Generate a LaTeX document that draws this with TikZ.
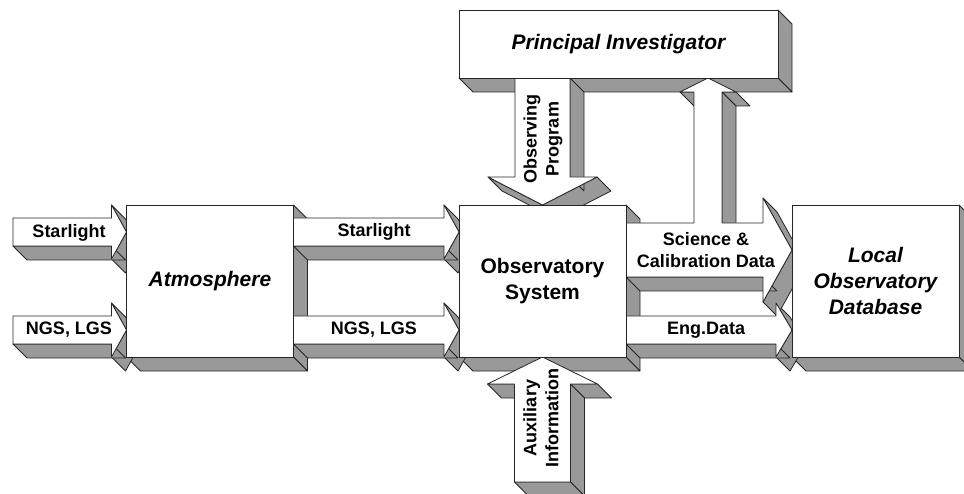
\documentclass[tikz,border=0pt]{standalone}
\usepackage{fontspec}
\setmainfont{Liberation Sans}
\usetikzlibrary{calc}
\pgfdeclarelayer{shade}
\pgfdeclarelayer{top}
\pgfsetlayers{shade,main,top}

% grey side of an extruded edge
\newcommand{\sidewall}[2]{\filldraw[wall] (#1) -- (#2) -- ($(#2)+(14,14)$) -- ($(#1)+(14,14)$) -- cycle;}

% block arrow pointing right: name, tail, tip, half shaft, half head, head length
\newcommand{\rarrow}[6]{
	\coordinate (#1-t) at (#2);
	\coordinate (#1-p) at (#3);
	\coordinate (#1-t1) at ($(#1-t)+(0,-#4)$);
	\coordinate (#1-t2) at ($(#1-t)+(0,#4)$);
	\coordinate (#1-s1) at ($(#1-p)+(-#6,-#4)$);
	\coordinate (#1-s2) at ($(#1-p)+(-#6,#4)$);
	\coordinate (#1-h1) at ($(#1-p)+(-#6,-#5)$);
	\coordinate (#1-h2) at ($(#1-p)+(-#6,#5)$);
	\begin{pgfonlayer}{shade}
		\sidewall{#1-h1}{#1-p}\sidewall{#1-p}{#1-h2}\sidewall{#1-s2}{#1-t2}
	\end{pgfonlayer}
	\filldraw[face] (#1-t1) -- (#1-s1) -- (#1-h1) -- (#1-p) -- (#1-h2) -- (#1-s2) -- (#1-t2) -- cycle;
}

% block arrow pointing down
\newcommand{\darrow}[6]{
	\coordinate (#1-t) at (#2);
	\coordinate (#1-p) at (#3);
	\coordinate (#1-t1) at ($(#1-t)+(-#4,0)$);
	\coordinate (#1-t2) at ($(#1-t)+(#4,0)$);
	\coordinate (#1-s1) at ($(#1-p)+(-#4,-#6)$);
	\coordinate (#1-s2) at ($(#1-p)+(#4,-#6)$);
	\coordinate (#1-h1) at ($(#1-p)+(-#5,-#6)$);
	\coordinate (#1-h2) at ($(#1-p)+(#5,-#6)$);
	\begin{pgfonlayer}{shade}
		\sidewall{#1-h1}{#1-p}\sidewall{#1-p}{#1-h2}\sidewall{#1-s2}{#1-t2}
	\end{pgfonlayer}
	\filldraw[face] (#1-t1) -- (#1-s1) -- (#1-h1) -- (#1-p) -- (#1-h2) -- (#1-s2) -- (#1-t2) -- cycle;
}

% block arrow pointing up
\newcommand{\uarrow}[6]{
	\coordinate (#1-t) at (#2);
	\coordinate (#1-p) at (#3);
	\coordinate (#1-t1) at ($(#1-t)+(-#4,0)$);
	\coordinate (#1-t2) at ($(#1-t)+(#4,0)$);
	\coordinate (#1-s1) at ($(#1-p)+(-#4,#6)$);
	\coordinate (#1-s2) at ($(#1-p)+(#4,#6)$);
	\coordinate (#1-h1) at ($(#1-p)+(-#5,#6)$);
	\coordinate (#1-h2) at ($(#1-p)+(#5,#6)$);
	\begin{pgfonlayer}{shade}
		\sidewall{#1-s1}{#1-h1}\sidewall{#1-h2}{#1-s2}\sidewall{#1-s2}{#1-t2}\sidewall{#1-t2}{#1-t1}
	\end{pgfonlayer}
	\filldraw[face] (#1-t1) -- (#1-s1) -- (#1-h1) -- (#1-p) -- (#1-h2) -- (#1-s2) -- (#1-t2) -- cycle;
}

\begin{document}
\begin{tikzpicture}[x=1pt, y=-1pt,
	wall/.style={fill=black!40, draw=black!85, line width=0.8pt, line join=round},
	face/.style={fill=white, draw=black!85, line width=0.8pt, line join=round},
	box/.style={rectangle, fill=white, draw=black!85, line width=0.8pt, outer sep=0pt, minimum width=167pt, minimum height=152pt, align=center, font=\fontsize{21}{26}\selectfont\bfseries\itshape},
	lbl/.style={align=center, inner sep=0pt, font=\fontsize{18}{22}\selectfont\bfseries}]
	\useasboundingbox (0,0) rectangle (964,494);

	\begin{pgfonlayer}{top}
		\node[box](atm) at (210,281){Atmosphere};
		\node[box, font=\fontsize{21}{26}\selectfont\bfseries](obs) at (542.5,281){Observatory\\System};
		\node[box](db) at (875.5,281){Local\\Observatory\\Database};
		\node[box, minimum width=319pt, minimum height=68pt](pi) at (618.5,44){Principal Investigator};
	\end{pgfonlayer}

	\begin{pgfonlayer}{shade}
		\sidewall{atm.north east}{atm.south east}\sidewall{atm.south east}{atm.south west}
		\sidewall{obs.north east}{obs.south east}\sidewall{obs.south east}{obs.south west}
		\sidewall{db.north east}{db.south east}\sidewall{db.south east}{db.south west}
		\sidewall{pi.north east}{pi.south east}\sidewall{pi.south east}{pi.south west}
	\end{pgfonlayer}

	\coordinate (in1) at (13,232);
	\coordinate (in2) at (13,330);
	\coordinate (aux) at (542.5,482);
	\rarrow{sl1}{in1}{atm.west |- in1}{14}{27}{15}
	\rarrow{ng1}{in2}{atm.west |- in2}{14}{27}{15}
	\rarrow{sl2}{atm.east |- in1}{obs.west |- in1}{14}{27}{15}
	\rarrow{ng2}{atm.east |- in2}{obs.west |- in2}{14}{27}{15}
	\rarrow{eng}{obs.east |- in2}{db.west |- in2}{14}{27}{16}
	\darrow{op}{pi.south -| obs.north}{obs.north}{27.5}{54.5}{28}
	\uarrow{ai}{aux}{obs.south}{28}{55}{27}

	% science data, with its branch up to the investigator
	\coordinate (sc) at (708,250);
	\coordinate (sc-t) at (obs.east |- sc);
	\coordinate (sc-p) at (db.west |- sc);
	\coordinate (up-p) at (pi.south -| sc);
	\coordinate (sc-a) at ($(sc-t)+(0,-27)$);
	\coordinate (sc-b) at ($(up-p |- sc-t)+(-14,-27)$);
	\coordinate (sc-c) at ($(up-p)+(-14,14)$);
	\coordinate (sc-d) at ($(up-p)+(-28,14)$);
	\coordinate (sc-f) at ($(up-p)+(28,14)$);
	\coordinate (sc-g) at ($(up-p)+(14,14)$);
	\coordinate (sc-h) at ($(up-p |- sc-t)+(14,-27)$);
	\coordinate (sc-i) at ($(sc-p)+(-29,-27)$);
	\coordinate (sc-j) at ($(sc-p)+(-29,-52)$);
	\coordinate (sc-l) at ($(sc-p)+(-29,52)$);
	\coordinate (sc-m) at ($(sc-p)+(-29,27)$);
	\coordinate (sc-n) at ($(sc-t)+(0,27)$);
	\begin{pgfonlayer}{shade}
		\sidewall{sc-c}{sc-d}\sidewall{sc-f}{sc-g}\sidewall{sc-g}{sc-h}
		\sidewall{sc-j}{sc-p}\sidewall{sc-p}{sc-l}\sidewall{sc-m}{sc-n}
	\end{pgfonlayer}
	\filldraw[face] (sc-a) -- (sc-b) -- (sc-c) -- (sc-d) -- (up-p) -- (sc-f) -- (sc-g) -- (sc-h) -- (sc-i) -- (sc-j) -- (sc-p) -- (sc-l) -- (sc-m) -- (sc-n) -- cycle;

	\begin{pgfonlayer}{top}
		\node[lbl](t-sl1) at (69,233){Starlight};
		\node[lbl](t-ng1) at (69,330){NGS, LGS};
		\node[lbl](t-sl2) at (374,232){Starlight};
		\node[lbl](t-ng2) at (374,330){NGS, LGS};
		\node[lbl](t-sc) at (706,250){Science \&\\Calibration Data};
		\node[lbl](t-eng) at (706,330){Eng.Data};
		\node[lbl, rotate=90](t-op) at (543,139){Observing\\Program};
		\node[lbl, rotate=90](t-ai) at (541,418){Auxiliary\\Information};
	\end{pgfonlayer}
\end{tikzpicture}
\end{document}
